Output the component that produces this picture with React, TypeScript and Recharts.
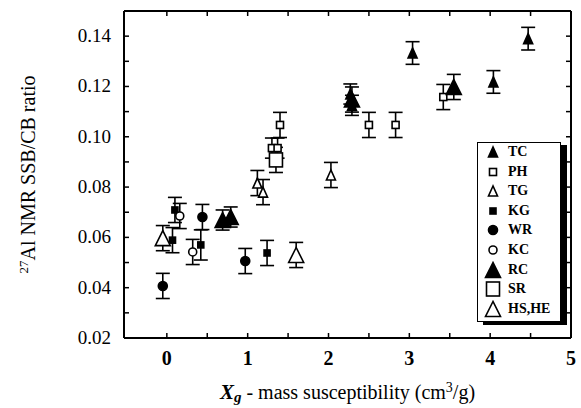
import React from 'react';
import { ScatterChart, Scatter, XAxis, YAxis, ErrorBar } from 'recharts';

const serif = '"Liberation Serif", "Times New Roman", serif';

const xTicks = [0, 0.5, 1, 1.5, 2, 2.5, 3, 3.5, 4, 4.5, 5];
const yTicks = [0.02, 0.03, 0.04, 0.05, 0.06, 0.07, 0.08, 0.09, 0.1, 0.11, 0.12, 0.13, 0.14, 0.15];

const tcX = [2.27, 2.29, 3.04, 4.04, 4.47];
const tcY = [0.117, 0.1125, 0.1333, 0.1218, 0.139];
const tcErr = [0.004, 0.004, 0.0045, 0.0045, 0.0045];

const phX = [1.3, 1.37, 1.4, 2.5, 2.83, 3.42];
const phY = [0.0955, 0.0955, 0.1047, 0.1047, 0.1047, 0.1158];
const phErr = [0.004, 0.004, 0.005, 0.005, 0.005, 0.005];

const tgX = [1.12, 1.19, 2.03];
const tgY = [0.0816, 0.078, 0.0848];
const tgErr = [0.005, 0.005, 0.005];

const kgX = [0.1, 0.07, 0.42, 1.24];
const kgY = [0.0709, 0.0589, 0.057, 0.0538];
const kgErr = [0.005, 0.005, 0.006, 0.005];

const wrX = [-0.05, 0.44, 0.97];
const wrY = [0.0407, 0.0681, 0.0506];
const wrErr = [0.005, 0.005, 0.005];

const kcX = [0.16, 0.32];
const kcY = [0.0685, 0.0542];
const kcErr = [0.005, 0.005];

const rcX = [0.69, 0.79, 2.29, 3.55];
const rcY = [0.0669, 0.0681, 0.1148, 0.1198];
const rcErr = [0.004, 0.004, 0.005, 0.005];

const srX = [1.35];
const srY = [0.0908];
const srErr = [0.005];

const hsX = [-0.05, 1.6];
const hsY = [0.0597, 0.053];
const hsErr = [0.005, 0.005];

const toPoints = (xs: number[], ys: number[], es: number[]) =>
  xs.map((x, i) => ({ x, y: ys[i], err: es[i] }));

type Kind = 'triS' | 'triL' | 'sqS' | 'sqL' | 'sqF' | 'circF' | 'circO';

const Marker = ({ cx, cy, kind, filled }: { cx: number; cy: number; kind: Kind; filled: boolean }) => {
  const fill = filled ? '#000' : '#fff';
  const sw = 1.6;
  if (kind === 'triS' || kind === 'triL') {
    const s = kind === 'triS' ? 9 : 15;
    const h = kind === 'triS' ? 10 : 15;
    const pts = `${cx},${cy - h / 2} ${cx - s / 2},${cy + h / 2} ${cx + s / 2},${cy + h / 2}`;
    return <polygon points={pts} fill={fill} stroke="#000" strokeWidth={sw} strokeLinejoin="miter" />;
  }
  if (kind === 'sqS' || kind === 'sqF') {
    const s = kind === 'sqS' ? 7 : 6;
    return <rect x={cx - s / 2} y={cy - s / 2} width={s} height={s} fill={fill} stroke="#000" strokeWidth={sw} />;
  }
  if (kind === 'sqL') {
    return <rect x={cx - 6.5} y={cy - 7} width={13} height={14} fill={fill} stroke="#000" strokeWidth={sw} />;
  }
  const r = kind === 'circF' ? 4.5 : 4;
  return <circle cx={cx} cy={cy} r={r} fill={fill} stroke="#000" strokeWidth={sw} />;
};

const series = [
  { name: 'TC', data: toPoints(tcX, tcY, tcErr), kind: 'triS' as Kind, filled: true },
  { name: 'PH', data: toPoints(phX, phY, phErr), kind: 'sqS' as Kind, filled: false },
  { name: 'TG', data: toPoints(tgX, tgY, tgErr), kind: 'triS' as Kind, filled: false },
  { name: 'KG', data: toPoints(kgX, kgY, kgErr), kind: 'sqF' as Kind, filled: true },
  { name: 'WR', data: toPoints(wrX, wrY, wrErr), kind: 'circF' as Kind, filled: true },
  { name: 'KC', data: toPoints(kcX, kcY, kcErr), kind: 'circO' as Kind, filled: false },
  { name: 'RC', data: toPoints(rcX, rcY, rcErr), kind: 'triL' as Kind, filled: true },
  { name: 'SR', data: toPoints(srX, srY, srErr), kind: 'sqL' as Kind, filled: false },
  { name: 'HS,HE', data: toPoints(hsX, hsY, hsErr), kind: 'triL' as Kind, filled: false },
];

const fmtY = (v: number) => {
  const k = Math.round(v * 100);
  return k % 2 === 0 && k <= 14 ? v.toFixed(2) : '';
};
const fmtX = (v: number) => (Number.isInteger(v) ? String(v) : '');

const YTick = (p: any) => (
  <text x={p.x} y={p.y} dy={6} textAnchor="end" fontFamily={serif} fontSize={19} fill="#000">
    {fmtY(p.payload.value)}
  </text>
);

const XTick = (p: any) => (
  <text x={p.x} y={p.y} dy={14} textAnchor="middle" fontFamily={serif} fontSize={20} fontWeight="bold" fill="#000">
    {fmtX(p.payload.value)}
  </text>
);

const LegendBox = () => (
  <div
    style={{
      position: 'absolute',
      left: 477,
      top: 142,
      width: 82,
      height: 178,
      border: '1.5px solid #000',
      boxShadow: '6px 3px 0 #000',
      background: '#fff',
      fontFamily: serif,
      fontWeight: 'bold',
      fontSize: 14,
    }}
  >
    {series.map((s, i) => (
      <div key={s.name} style={{ position: 'absolute', left: 6, top: i * 19.6, height: 18, display: 'flex', alignItems: 'center' }}>
        <svg width={18} height={18}>
          <Marker cx={9} cy={9} kind={s.kind} filled={s.filled} />
        </svg>
        <span style={{ marginLeft: 6, lineHeight: '18px' }}>{s.name}</span>
      </div>
    ))}
  </div>
);

const XTitle = (props: any) => {
  const vb = props.viewBox;
  const cx = vb.x + vb.width / 2;
  return (
    <text x={cx} y={399} textAnchor="middle" fontFamily={serif} fontSize={20} fill="#000">
      <tspan fontWeight="bold" fontStyle="italic" fontSize={21}>X</tspan>
      <tspan fontWeight="bold" fontStyle="italic" fontSize={15} dy={3}>g</tspan>
      <tspan dy={-3}> - mass susceptibility (cm</tspan>
      <tspan fontSize={14} dy={-7}>3</tspan>
      <tspan dy={7}>/g)</tspan>
    </text>
  );
};

const YTitle = (props: any) => {
  const vb = props.viewBox;
  const cy = vb.y + vb.height / 2;
  const x = 35;
  return (
    <text x={x} y={cy} transform={`rotate(-90 ${x} ${cy})`} textAnchor="middle" fontFamily={serif} fontSize={20} fill="#000">
      <tspan fontSize={13} dy={-7}>27</tspan>
      <tspan dy={7}>Al NMR SSB/CB ratio</tspan>
    </text>
  );
};

export default function App() {
  const axisLine = { stroke: '#000', strokeWidth: 2 };
  const tickLine = { stroke: '#000', strokeWidth: 1.5 };
  return (
    <div style={{ position: 'relative', width: 581, height: 408 }}>
      <style>{'body{margin:0;background:#fff}'}</style>
      <ScatterChart width={581} height={408} margin={{ top: 10, right: 9, left: 0, bottom: 0 }}>
        <XAxis
          xAxisId="b"
          type="number"
          dataKey="x"
          domain={[-0.53, 5]}
          ticks={xTicks}
          allowDataOverflow
          height={70}
          tickSize={-5}
          tickMargin={18}
          axisLine={axisLine}
          tickLine={tickLine}
          tick={XTick}
          label={{ content: XTitle }}
        />
        <XAxis
          xAxisId="t"
          orientation="top"
          type="number"
          dataKey="x"
          domain={[-0.53, 5]}
          ticks={xTicks}
          tickFormatter={() => ''}
          allowDataOverflow
          height={1}
          tickSize={-5}
          axisLine={axisLine}
          tickLine={tickLine}
        />
        <YAxis
          yAxisId="l"
          type="number"
          dataKey="y"
          domain={[0.02, 0.15]}
          ticks={yTicks}
          allowDataOverflow
          width={124}
          tickSize={-5}
          tickMargin={18}
          axisLine={axisLine}
          tickLine={tickLine}
          tick={YTick}
          label={{ content: YTitle }}
        />
        <YAxis
          yAxisId="r"
          orientation="right"
          type="number"
          dataKey="y"
          domain={[0.02, 0.15]}
          ticks={yTicks}
          tickFormatter={() => ''}
          allowDataOverflow
          width={1}
          tickSize={-5}
          axisLine={axisLine}
          tickLine={tickLine}
        />
        {series.map((s) => (
          <Scatter
            key={s.name}
            name={s.name}
            data={s.data}
            xAxisId="b"
            yAxisId="l"
            isAnimationActive={false}
            shape={(p: any) => <Marker cx={p.cx} cy={p.cy} kind={s.kind} filled={s.filled} />}
          >
            <ErrorBar dataKey="err" direction="y" width={7} stroke="#000" strokeWidth={1.6} />
          </Scatter>
        ))}
      </ScatterChart>
      <LegendBox />
    </div>
  );
}
